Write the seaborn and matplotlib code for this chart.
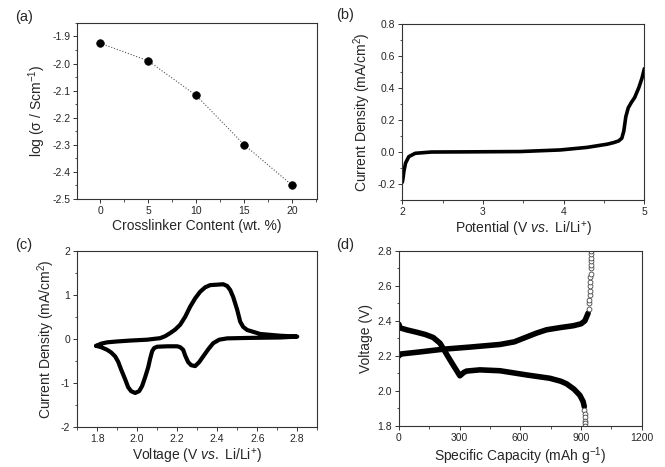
import matplotlib
matplotlib.use("Agg")
import matplotlib.pyplot as plt
from matplotlib.ticker import MultipleLocator, FormatStrFormatter
import seaborn as sns

# --- data ---
# (a) conductivity vs crosslinker content
crosslinker = [0, 5, 10, 15, 20]
log_sigma = [-1.925, -1.99, -2.118, -2.30, -2.45]

# (b) linear sweep voltammetry
lsv_potential = [2.0, 2.01, 2.02, 2.04, 2.08, 2.16, 2.36, 2.8, 3.46, 3.96,
                 4.29, 4.54, 4.62, 4.68, 4.72, 4.745, 4.77, 4.80, 4.84, 4.88,
                 4.93, 4.97, 5.0]
lsv_current = [-0.19, -0.16, -0.12, -0.07, -0.03, -0.009, -0.001, 0.0, 0.002, 0.012,
               0.028, 0.048, 0.058, 0.068, 0.085, 0.13, 0.22, 0.275, 0.31, 0.34,
               0.40, 0.46, 0.52]

# (c) cyclic voltammogram (closed loop, forward then reverse)
cv_voltage = [1.795, 1.82, 1.85, 1.90, 1.965, 2.05, 2.115, 2.14, 2.165, 2.19,
              2.215, 2.24, 2.265, 2.29, 2.315, 2.34, 2.365, 2.40, 2.43, 2.45,
              2.465, 2.48, 2.50, 2.515, 2.53, 2.55, 2.615, 2.715, 2.80,
              2.715, 2.55, 2.45, 2.41, 2.38, 2.355, 2.33, 2.31, 2.29, 2.27,
              2.255, 2.24, 2.23, 2.215, 2.20, 2.15, 2.10, 2.085, 2.075, 2.065,
              2.055, 2.04, 2.025, 2.01, 1.99, 1.97, 1.955, 1.94, 1.92, 1.905,
              1.89, 1.87, 1.85, 1.82, 1.795]
cv_current = [-0.16, -0.11, -0.08, -0.06, -0.04, -0.02, 0.015, 0.06, 0.13, 0.21,
              0.32, 0.50, 0.73, 0.92, 1.07, 1.17, 1.22, 1.23, 1.24, 1.20,
              1.11, 0.95, 0.66, 0.39, 0.27, 0.20, 0.11, 0.07, 0.05,
              0.03, 0.02, 0.01, -0.02, -0.10, -0.24, -0.40, -0.53, -0.62, -0.60,
              -0.53, -0.38, -0.25, -0.19, -0.17, -0.17, -0.18, -0.21, -0.28, -0.45,
              -0.65, -0.87, -1.07, -1.19, -1.23, -1.19, -1.10, -0.92, -0.70, -0.52,
              -0.40, -0.31, -0.25, -0.19, -0.16]

# (d) galvanostatic discharge / charge
dis_capacity = [0, 5, 40, 87, 130, 169, 203, 252, 301, 320, 334, 400, 499, 631,
                746, 800, 829, 865, 894, 910, 916]
dis_voltage = [2.38, 2.36, 2.348, 2.335, 2.322, 2.305, 2.272, 2.177, 2.086, 2.105,
               2.113, 2.12, 2.115, 2.091, 2.072, 2.055, 2.04, 2.01, 1.975, 1.94, 1.91]
dis_tail_capacity = [917, 918, 919, 920, 920, 921]
dis_tail_voltage = [1.89, 1.87, 1.85, 1.83, 1.815, 1.80]
chg_capacity = [0, 5, 100, 219, 350, 499, 570, 614, 680, 730, 800, 862, 900, 919, 935]
chg_voltage = [2.20, 2.21, 2.222, 2.238, 2.25, 2.265, 2.28, 2.30, 2.33, 2.349,
               2.362, 2.372, 2.383, 2.40, 2.444]
chg_tail_capacity = [938, 940, 941, 942, 943, 944, 945, 946, 947, 948, 948, 949, 950, 950, 951]
chg_tail_voltage = [2.47, 2.50, 2.52, 2.55, 2.57, 2.60, 2.62, 2.65, 2.67, 2.70,
                    2.72, 2.74, 2.76, 2.78, 2.80]

# --- style ---
sns.set_theme(style="ticks")
plt.rcParams["font.family"] = ["Liberation Sans", "DejaVu Sans"]
plt.rcParams["mathtext.fontset"] = "custom"
plt.rcParams["mathtext.rm"] = "Liberation Sans"
plt.rcParams["mathtext.it"] = "Liberation Sans:italic"
plt.rcParams["axes.edgecolor"] = "#333333"
plt.rcParams["axes.linewidth"] = 0.8
plt.rcParams["axes.unicode_minus"] = False

LABEL_FS = 10
TICK_FS = 7.5

fig = plt.figure(figsize=(6.65, 4.67), dpi=100)
ax_a = fig.add_axes([0.116, 0.574, 0.361, 0.377])
ax_b = fig.add_axes([0.605, 0.572, 0.364, 0.377])
ax_c = fig.add_axes([0.116, 0.086, 0.361, 0.377])
ax_d = fig.add_axes([0.600, 0.088, 0.365, 0.375])

# (a)
sns.lineplot(x=crosslinker, y=log_sigma, ax=ax_a, color="#555555", lw=0.8,
             linestyle=":", estimator=None)
sns.scatterplot(x=crosslinker, y=log_sigma, ax=ax_a, color="black", s=30,
                edgecolor="black", linewidth=0.5, zorder=3)
ax_a.set_xlim(-2.4, 22.6)
ax_a.set_ylim(-2.5, -1.85)
ax_a.xaxis.set_major_locator(MultipleLocator(5))
ax_a.xaxis.set_minor_locator(MultipleLocator(2.5))
ax_a.yaxis.set_major_locator(MultipleLocator(0.1))
ax_a.yaxis.set_minor_locator(MultipleLocator(0.05))
ax_a.set_xlabel("Crosslinker Content (wt. %)", fontsize=LABEL_FS)
ax_a.set_ylabel(r"log (σ / Scm$^{-1}$)", fontsize=LABEL_FS)

# (b)
sns.lineplot(x=lsv_potential, y=lsv_current, ax=ax_b, color="black", lw=2.6,
             sort=False, estimator=None)
ax_b.set_xlim(2, 5)
ax_b.set_ylim(-0.3, 0.8)
ax_b.xaxis.set_major_locator(MultipleLocator(1))
ax_b.xaxis.set_minor_locator(MultipleLocator(0.5))
ax_b.yaxis.set_major_locator(MultipleLocator(0.2))
ax_b.yaxis.set_minor_locator(MultipleLocator(0.1))
ax_b.set_xlabel(r"Potential (V $\mathit{vs.}$ Li/Li$^{+}$)", fontsize=LABEL_FS)
ax_b.set_ylabel(r"Current Density (mA/cm$^{2}$)", fontsize=LABEL_FS)

# (c)
sns.lineplot(x=cv_voltage, y=cv_current, ax=ax_c, color="black", lw=3,
             sort=False, estimator=None)
ax_c.set_xlim(1.7, 2.9)
ax_c.set_ylim(-2, 2)
ax_c.xaxis.set_major_locator(MultipleLocator(0.2))
ax_c.xaxis.set_minor_locator(MultipleLocator(0.1))
ax_c.yaxis.set_major_locator(MultipleLocator(1))
ax_c.yaxis.set_minor_locator(MultipleLocator(0.5))
ax_c.set_xlabel(r"Voltage (V $\mathit{vs.}$ Li/Li$^{+}$)", fontsize=LABEL_FS)
ax_c.set_ylabel(r"Current Density (mA/cm$^{2}$)", fontsize=LABEL_FS)

# (d)
sns.lineplot(x=dis_capacity, y=dis_voltage, ax=ax_d, color="black", lw=4,
             sort=False, estimator=None)
sns.lineplot(x=chg_capacity, y=chg_voltage, ax=ax_d, color="black", lw=4,
             sort=False, estimator=None)
for cap, volt in [(dis_tail_capacity, dis_tail_voltage), (chg_tail_capacity, chg_tail_voltage)]:
    ax_d.plot(cap, volt, linestyle="none", marker="o", ms=3.5, mfc="white",
              mec="#444444", mew=0.6)
ax_d.set_xlim(0, 1200)
ax_d.set_ylim(1.8, 2.8)
ax_d.xaxis.set_major_locator(MultipleLocator(300))
ax_d.xaxis.set_minor_locator(MultipleLocator(150))
ax_d.yaxis.set_major_locator(MultipleLocator(0.2))
ax_d.yaxis.set_minor_locator(MultipleLocator(0.1))
ax_d.yaxis.set_major_formatter(FormatStrFormatter("%.1f"))
ax_d.set_xlabel(r"Specific Capacity (mAh g$^{-1}$)", fontsize=LABEL_FS)
ax_d.set_ylabel("Voltage (V)", fontsize=LABEL_FS)

for ax in (ax_a, ax_b, ax_c, ax_d):
    ax.tick_params(which="major", direction="out", length=3, width=0.7,
                   labelsize=TICK_FS, pad=2, color="#333333")
    ax.tick_params(which="minor", direction="out", length=1.8, width=0.6, color="#333333")
    ax.xaxis.labelpad = 2
    ax.yaxis.labelpad = 3

fig.text(0.022, 0.963, "(a)", fontsize=10.5, va="center")
fig.text(0.506, 0.967, "(b)", fontsize=10.5, va="center")
fig.text(0.022, 0.475, "(c)", fontsize=10.5, va="center")
fig.text(0.506, 0.475, "(d)", fontsize=10.5, va="center")

fig.savefig("out.png", dpi=100)
